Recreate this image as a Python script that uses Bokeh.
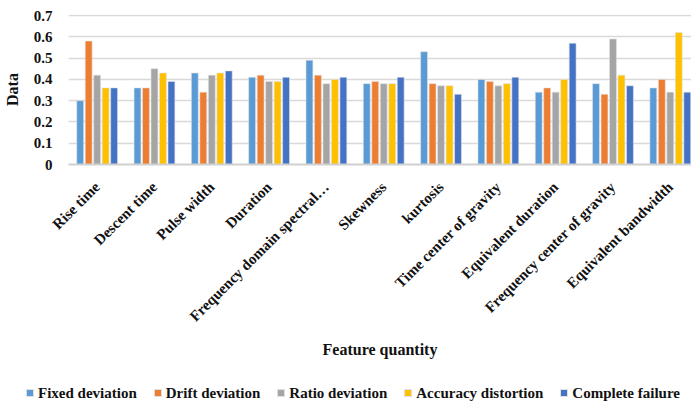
import math
from bokeh.plotting import figure
from bokeh.layouts import column
from bokeh.models import (ColumnDataSource, FixedTicker, CustomJSTickFormatter,
                          Range1d, Div)
from bokeh.embed import file_html
from bokeh.resources import INLINE

categories = ["Rise time", "Descent time", "Pulse width", "Duration",
              "Frequency domain spectral\u2026", "Skewness", "kurtosis",
              "Time center of gravity", "Equivalent duration",
              "Frequency center of gravity", "Equivalent bandwidth"]
series_names = ["Fixed deviation", "Drift deviation", "Ratio deviation",
                "Accuracy distortion", "Complete failure"]
fixed_dev = [0.30, 0.36, 0.43, 0.41, 0.49, 0.38, 0.53, 0.40, 0.34, 0.38, 0.36]
drift_dev = [0.58, 0.36, 0.34, 0.42, 0.42, 0.39, 0.38, 0.39, 0.36, 0.33, 0.40]
ratio_dev = [0.42, 0.45, 0.42, 0.39, 0.38, 0.38, 0.37, 0.37, 0.34, 0.59, 0.34]
accuracy_dist = [0.36, 0.43, 0.43, 0.39, 0.40, 0.38, 0.37, 0.38, 0.40, 0.42, 0.62]
complete_fail = [0.36, 0.39, 0.44, 0.41, 0.41, 0.41, 0.33, 0.41, 0.57, 0.37, 0.34]
series_values = [fixed_dev, drift_dev, ratio_dev, accuracy_dist, complete_fail]
colors = ["#5B9BD5", "#ED7D31", "#A5A5A5", "#FFC000", "#4472C4"]
y_ticks = [0, 0.1, 0.2, 0.3, 0.4, 0.5, 0.6, 0.7]

FONT = "Liberation Serif"

p = figure(frame_width=623, frame_height=150, output_backend="svg", toolbar_location=None,
           x_range=Range1d(-0.5, 10.37), y_range=Range1d(0, 0.705),
           min_border_left=68, min_border_right=0, min_border_top=14,
           min_border_bottom=0)
p.outline_line_color = None
p.xgrid.grid_line_color = None
p.ygrid.grid_line_color = "#D9D9D9"
p.ygrid.grid_line_width = 1.5

xs = list(range(len(categories)))
offset = 0.148
bar_w = 0.12
for i, (name, vals, col) in enumerate(zip(series_names, series_values, colors)):
    src = ColumnDataSource(dict(x=[x + (i - 2) * offset for x in xs], top=vals))
    p.vbar(x="x", top="top", width=bar_w, bottom=0, source=src,
           fill_color=col, line_color="#E0E0E0", line_width=0.6)

# y axis
p.yaxis.ticker = FixedTicker(ticks=y_ticks)
p.yaxis.formatter = CustomJSTickFormatter(code="return tick == 0 ? '0' : tick.toFixed(1);")
p.yaxis.axis_line_color = None
p.yaxis.major_tick_line_color = None
p.yaxis.minor_tick_line_color = None
p.yaxis.major_label_standoff = 10
p.yaxis.major_label_text_font = FONT
p.yaxis.major_label_text_font_style = "bold"
p.yaxis.major_label_text_font_size = "15px"
p.yaxis.major_label_text_color = "#111111"
p.yaxis.axis_label = "Data"
p.yaxis.axis_label_text_font = FONT
p.yaxis.axis_label_text_font_style = "bold"
p.yaxis.axis_label_text_font_size = "16px"
p.yaxis.axis_label_text_color = "#111111"
p.yaxis.axis_label_standoff = 10

# x axis
p.xaxis.ticker = FixedTicker(ticks=xs)
p.xaxis.major_label_overrides = {i: c for i, c in enumerate(categories)}
p.xaxis.major_label_orientation = math.pi / 4
p.xaxis.axis_line_color = "#D0D0D0"
p.xaxis.axis_line_width = 2
p.xaxis.major_tick_line_color = None
p.xaxis.minor_tick_line_color = None
p.xaxis.major_label_standoff = 14
p.xaxis.major_label_text_font = FONT
p.xaxis.major_label_text_font_style = "bold"
p.xaxis.major_label_text_font_size = "15px"
p.xaxis.major_label_text_color = "#111111"
p.xaxis.axis_label = "Feature quantity"
p.xaxis.axis_label_text_font = FONT
p.xaxis.axis_label_text_font_style = "bold"
p.xaxis.axis_label_text_font_size = "16px"
p.xaxis.axis_label_text_color = "#111111"
p.xaxis.axis_label_standoff = 8

# legend strip below the chart
parts = []
for name, col in zip(series_names, colors):
    parts.append(
        '<span style="display:inline-flex;align-items:center;margin-right:17px;'
        'font-family:Liberation Serif,serif;">'
        f'<span style="display:inline-block;width:8px;height:8px;background:{col};'
        'border:1px solid #E0E0E0;margin-right:4px;"></span>'
        f'{name}</span>')
legend_html = (
    '<div style="display:flex;align-items:center;white-space:nowrap;'
    'font-family:Liberation Serif,serif;font-weight:bold;font-size:15px;color:#111111;'
    'padding-left:26px;padding-top:24px;line-height:18px;">'
    + "".join(parts) + '</div>')
leg = Div(text=legend_html, width=691, height=46, margin=(0, 0, 0, 0),
          styles={"font-family": "Liberation Serif, serif"})

layout = column(p, leg, spacing=0)
open("out.html", "w").write(file_html(layout, INLINE))
